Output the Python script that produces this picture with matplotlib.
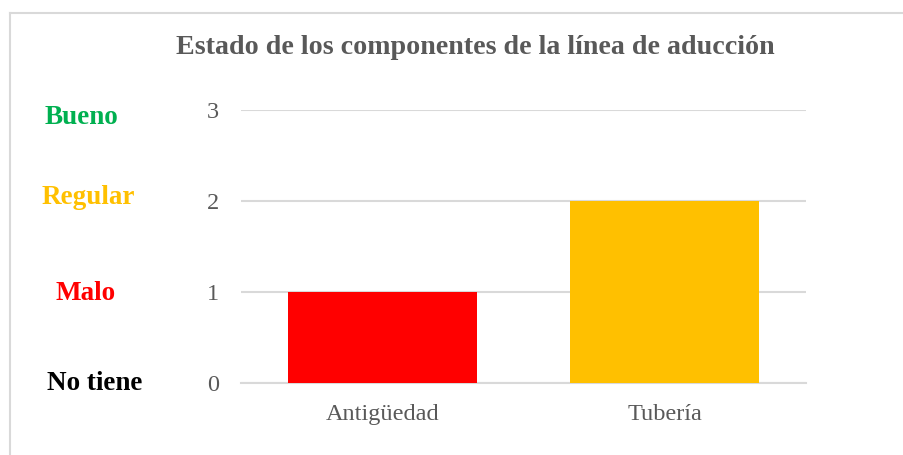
import matplotlib
matplotlib.use("Agg")
import matplotlib.pyplot as plt
from matplotlib.lines import Line2D

categories = ["Antigüedad", "Tubería"]
values = [1, 2]
bar_colors = ["#FF0000", "#FFC000"]
yticks = [0, 1, 2, 3]
level_labels = ["No tiene", "Malo", "Regular", "Bueno"]
level_colors = ["#000000", "#FF0000", "#FFC000", "#00B050"]
title = "Estado de los componentes de la línea de aducción"

plt.rcParams["font.family"] = ["Liberation Serif", "DejaVu Serif"]

W, H = 904, 455
fig = plt.figure(figsize=(W / 100, H / 100), dpi=100)
ax = fig.add_axes([241 / W, 72 / H, 565 / W, 273 / H])

x = list(range(len(categories)))
ax.bar(x, values, width=0.67, color=bar_colors, zorder=3)
ax.set_xlim(-0.5, len(categories) - 0.5)
ax.set_ylim(0, 3)
ax.set_yticks(yticks)
ax.set_xticks(x)
ax.set_xticklabels(categories)
ax.yaxis.grid(True, color="#D9D9D9", linewidth=1.5, zorder=0)
ax.set_axisbelow(True)
for s in ["top", "right", "left"]:
    ax.spines[s].set_visible(False)
ax.spines["bottom"].set_color("#D9D9D9")
ax.spines["bottom"].set_linewidth(1.5)
ax.tick_params(axis="both", length=0, labelcolor="#595959", labelsize=17.5)
ax.tick_params(axis="y", pad=16)
ax.tick_params(axis="x", pad=15)

fig.text(475 / W, 1 - 47 / H, title, ha="center", va="center",
         fontsize=20.2, fontweight="bold", color="#595959")

# level labels on the left
pos = {"No tiene": (95, 383), "Malo": (86, 293), "Regular": (88, 198), "Bueno": (81, 117)}
for lab, col in zip(level_labels, level_colors):
    px, py = pos[lab]
    fig.text(px / W, 1 - py / H, lab, ha="center", va="center",
             fontsize=19.5, fontweight="bold", color=col)

# chart frame (top and left visible)
fig.add_artist(Line2D([9.5 / W, 9.5 / W], [0, 1 - 12.5 / H], transform=fig.transFigure,
                      color="#D9D9D9", linewidth=1.5))
fig.add_artist(Line2D([9.5 / W, 1], [1 - 12.5 / H, 1 - 12.5 / H], transform=fig.transFigure,
                      color="#D9D9D9", linewidth=1.5))

fig.savefig("out.png", dpi=100, facecolor="white")
